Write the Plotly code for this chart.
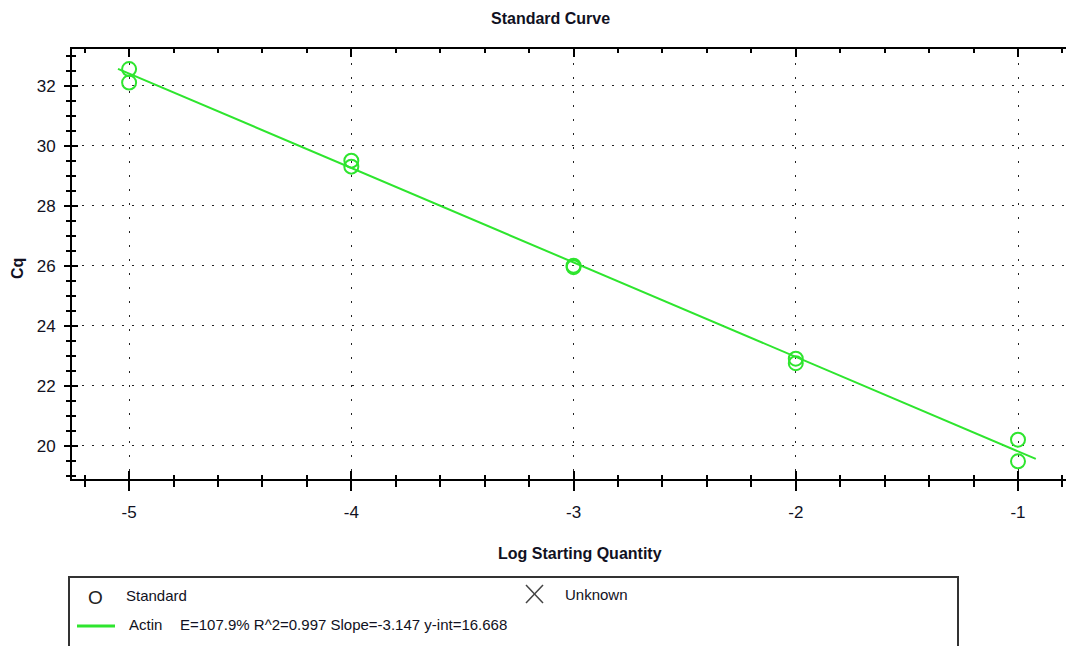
import plotly.graph_objects as go

# ---- data ----
log_qty = [-5, -5, -4, -4, -3, -3, -2, -2, -1, -1]
cq_values = [32.55, 32.1, 29.5, 29.3, 26.0, 25.95, 22.9, 22.75, 20.2, 19.48]

fit_x = [-5.05, -0.92]
fit_y = [32.56, 19.56]

x_ticks = [-5, -4, -3, -2, -1]
y_ticks = [20, 22, 24, 26, 28, 30, 32]

title_text = "Standard Curve"
x_title = "Log Starting Quantity"
y_title = "Cq"
legend_standard = "Standard"
legend_unknown = "Unknown"
legend_series = "Actin"
legend_stats = "E=107.9% R^2=0.997 Slope=-3.147 y-int=16.668"

# ---- layout geometry (pixels) ----
OFF = 8  # default page body margin
W, H = 1074 - OFF, 646 - OFF
L, R, T, B = 72 - OFF, 0, 49 - OFF, 646 - 479
PW, PH = W - L - R, H - T - B
X_RANGE = [-5.257, -0.748]
Y_RANGE = [18.89, 33.22]

GREEN = "#2ee52e"
FONT = "Liberation Sans, Arial, sans-serif"
TXT = "#111122"


def px(xs):
    """screen x pixel -> paper coordinate"""
    return (xs - OFF - L) / PW


def py(ys):
    """screen y pixel -> paper coordinate"""
    return (T + PH - (ys - OFF)) / PH


fig = go.Figure()

fig.add_trace(go.Scatter(
    x=fit_x, y=fit_y, mode="lines",
    line=dict(color=GREEN, width=2), showlegend=False, hoverinfo="skip"))

fig.add_trace(go.Scatter(
    x=log_qty, y=cq_values, mode="markers",
    marker=dict(symbol="circle-open", size=14, color=GREEN,
                line=dict(color=GREEN, width=2)),
    showlegend=False))

# empty trace to hold the overlay axes (inside ticks)
fig.add_trace(go.Scatter(x=[], y=[], xaxis="x2", yaxis="y2", showlegend=False))

tickfont = dict(family=FONT, size=17, color=TXT)

fig.update_layout(
    width=W, height=H,
    margin=dict(l=L, r=R, t=T, b=B),
    paper_bgcolor="white", plot_bgcolor="white",
    font=dict(family=FONT, color="black"),
    showlegend=False,
    xaxis=dict(
        range=X_RANGE, tickvals=x_ticks, ticktext=[str(v) for v in x_ticks],
        ticks="outside", ticklen=10, tickwidth=2, tickcolor="black",
        showline=True, linecolor="black", linewidth=2, mirror=True,
        showgrid=True, gridcolor="#222222", gridwidth=1, griddash="2px,12px",
        zeroline=False, tickfont=tickfont, ticklabelstandoff=7,
        minor=dict(dtick=0.2, tick0=0, ticks="outside", ticklen=6,
                   tickwidth=2, tickcolor="black", showgrid=False),
    ),
    yaxis=dict(
        range=Y_RANGE, tickvals=y_ticks, ticktext=[str(v) for v in y_ticks],
        ticks="outside", ticklen=6, tickwidth=2, tickcolor="black",
        showline=True, linecolor="black", linewidth=2, mirror=False,
        showgrid=True, gridcolor="#222222", gridwidth=1, griddash="2px,8px",
        zeroline=False, tickfont=tickfont, ticklabelstandoff=5,
        minor=dict(dtick=0.5, tick0=0, ticks="outside", ticklen=4,
                   tickwidth=2, tickcolor="black", showgrid=False),
    ),
    xaxis2=dict(
        range=X_RANGE, overlaying="x", anchor="y2", tickvals=x_ticks,
        ticks="inside", ticklen=8, tickwidth=2, tickcolor="black",
        showticklabels=False, showgrid=False, zeroline=False,
        showline=False, mirror="ticks",
        minor=dict(dtick=0.2, tick0=0, ticks="inside", ticklen=4,
                   tickwidth=2, tickcolor="black", showgrid=False),
    ),
    yaxis2=dict(
        range=Y_RANGE, overlaying="y", anchor="x2", side="left", tickvals=y_ticks,
        ticks="inside", ticklen=6, tickwidth=2, tickcolor="black",
        showticklabels=False, showgrid=False, zeroline=False, showline=False,
        minor=dict(dtick=0.5, tick0=0, ticks="inside", ticklen=4,
                   tickwidth=2, tickcolor="black", showgrid=False),
    ),
)


def note(text, xs, ys, size, anchor="center", angle=0, family=FONT, color=TXT):
    return dict(text=text, x=px(xs), y=py(ys), xref="paper", yref="paper",
                xanchor=anchor, yanchor="middle", showarrow=False, textangle=angle,
                font=dict(family=family, size=size, color=color))


ann = [
    note(f"<b>{title_text}</b>", 550, 18, 16),
    note(f"<b>{x_title}</b>", 580, 553, 16),
    note(f"<b>{y_title}</b>", 17, 269, 16, angle=-90),
    note("O", 95, 597, 19, color="#222222"),
    note(legend_standard, 124, 595, 15, anchor="left"),
    note(legend_unknown, 563, 594, 15, anchor="left"),
    note(legend_series, 127, 624, 15, anchor="left"),
    note(legend_stats, 178, 624, 15, anchor="left"),
]
fig.update_layout(annotations=ann)

shapes = [
    dict(type="rect", xref="paper", yref="paper",
         x0=px(69), x1=px(958), y0=py(577), y1=py(660),
         line=dict(color="#333333", width=2), fillcolor="rgba(0,0,0,0)"),
    dict(type="line", xref="paper", yref="paper",
         x0=px(77), x1=px(115), y0=py(626), y1=py(626),
         line=dict(color=GREEN, width=3)),
    dict(type="line", xref="paper", yref="paper",
         x0=px(526), x1=px(543), y0=py(585), y1=py(603),
         line=dict(color="#444444", width=1.5)),
    dict(type="line", xref="paper", yref="paper",
         x0=px(526), x1=px(543), y0=py(603), y1=py(585),
         line=dict(color="#444444", width=1.5)),
]
fig.update_layout(shapes=shapes)

fig.write_html("out.html")
